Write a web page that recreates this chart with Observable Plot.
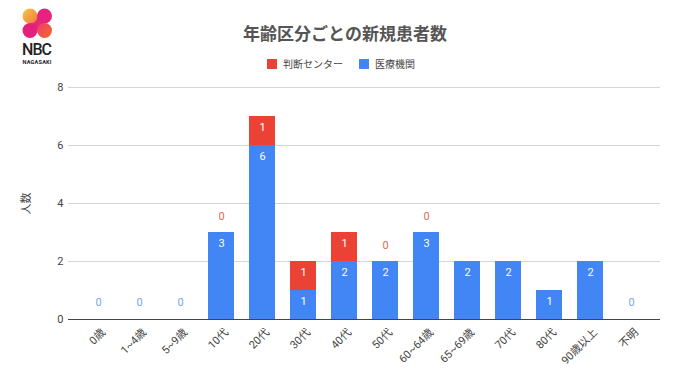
<!DOCTYPE html>
<html>
<head>
<meta charset="utf-8">
<script src="https://cdn.jsdelivr.net/npm/d3@7"></script>
<script src="https://cdn.jsdelivr.net/npm/@observablehq/plot@0.6"></script>
<style>
  html, body { margin: 0; padding: 0; background: #fff; }
  #wrap { position: relative; width: 680px; height: 382px; overflow: hidden; font-family: Roboto, "Noto Sans CJK JP", sans-serif; }
  #title { position: absolute; left: 0; width: 690px; top: 20px; text-align: center; font-size: 17px; font-weight: bold; color: #555; }
  #legend { position: absolute; top: 56px; left: 267px; display: flex; align-items: center; font-size: 10px; color: #444; }
  .sw { width: 10px; height: 10px; display: inline-block; margin-right: 6px; }
  .item { display: flex; align-items: center; margin-right: 16px; }
  #chart { position: absolute; left: 0; top: 80px; }
  #logo { position: absolute; left: 0; top: 0; }
</style>
</head>
<body>
<div id="wrap">
  <svg id="logo" width="80" height="75">
    <defs>
      <linearGradient id="g1" x1="0" y1="0" x2="1" y2="1"><stop offset="0" stop-color="#f9c84a"/><stop offset="1" stop-color="#f07a3a"/></linearGradient>
      <linearGradient id="g2" x1="0" y1="0" x2="1" y2="1"><stop offset="0" stop-color="#ef3b6b"/><stop offset="1" stop-color="#f26a2a"/></linearGradient>
    </defs>
    <path d="M30 16 L44 30" stroke="#e8287a" stroke-width="9" />
    <circle cx="30" cy="16" r="7.5" fill="url(#g1)"/>
    <circle cx="44.5" cy="16" r="7.5" fill="#e4247e"/>
    <circle cx="30" cy="30.5" r="7.5" fill="#e3207c"/>
    <circle cx="44.5" cy="30.5" r="7.5" fill="url(#g2)"/>
    <text x="22" y="55" font-family="Roboto, sans-serif" font-size="16" font-weight="500" fill="#222" textLength="30">NBC</text>
    <text x="22.5" y="64" font-family="Roboto, sans-serif" font-size="5.6" font-weight="bold" fill="#222" textLength="29">NAGASAKI</text>
  </svg>
  <div id="title">年齢区分ごとの新規患者数</div>
  <div id="legend"></div>
  <div id="chart"></div>
</div>
<script>
const categories = ["0歳", "1~4歳", "5~9歳", "10代", "20代", "30代", "40代", "50代", "60~64歳", "65~69歳", "70代", "80代", "90歳以上", "不明"];
const medical = [0, 0, 0, 3, 6, 1, 2, 2, 3, 2, 2, 1, 2, 0];   // 医療機関
const judge   = [0, 0, 0, 0, 1, 1, 1, 0, 0, 0, 0, 0, 0, 0];   // 判断センター
const seriesNames = ["判断センター", "医療機関"];
const seriesColors = ["#EA4335", "#4285F4"];
const judgeZeroShown = ["10代", "50代", "60~64歳"];
const yTicks = [0, 2, 4, 6, 8];

// legend
const legend = document.getElementById("legend");
seriesNames.forEach((s, i) => {
  const it = document.createElement("div");
  it.className = "item";
  it.innerHTML = `<span class="sw" style="background:${seriesColors[i]}"></span><span>${s}</span>`;
  legend.appendChild(it);
});

const rows = categories.flatMap((c, i) => [
  {cat: c, series: "医療機関", value: medical[i]},
  {cat: c, series: "判断センター", value: judge[i]}
]);
const order = ["医療機関", "判断センター"];
const bothZero = categories.filter((c, i) => medical[i] === 0 && judge[i] === 0);

const chart = Plot.plot({
  width: 680,
  height: 302,
  marginTop: 7,
  marginBottom: 63,
  marginLeft: 68,
  marginRight: 20,
  style: {fontFamily: 'Roboto, "Noto Sans CJK JP", sans-serif', fontSize: "11px", color: "#444", background: "transparent"},
  x: {domain: categories, paddingInner: 0.37, paddingOuter: 0.35},
  y: {domain: [0, 8]},
  color: {domain: seriesNames, range: seriesColors},
  marks: [
    Plot.ruleY(yTicks.filter(t => t > 0), {stroke: "#d6d6d6"}),
    Plot.axisY({ticks: yTicks, tickSize: 0, tickPadding: 5, label: "人数", labelAnchor: "center", labelArrow: "none", labelOffset: 46}),
    Plot.axisX({tickSize: 0, tickRotate: -45, tickPadding: 11, dx: 5, label: null}),
    Plot.barY(rows, Plot.stackY({x: "cat", y: "value", fill: "series", order})),
    Plot.ruleY([0], {stroke: "#444"}),
    Plot.text(rows, Plot.stackY2({filter: d => d.value > 0, x: "cat", y: "value", z: "series", order, text: "value", fill: "white", dy: 11})),
    Plot.text(judgeZeroShown, {x: d => d, y: d => medical[categories.indexOf(d)] + judge[categories.indexOf(d)], text: () => "0", fill: "#e06a55", dy: -16}),
    Plot.text(bothZero, {x: d => d, y: () => 0, text: () => "0", fill: "#7ea4e8", dy: -17})
  ]
});
document.getElementById("chart").appendChild(chart);
</script>
</body>
</html>
